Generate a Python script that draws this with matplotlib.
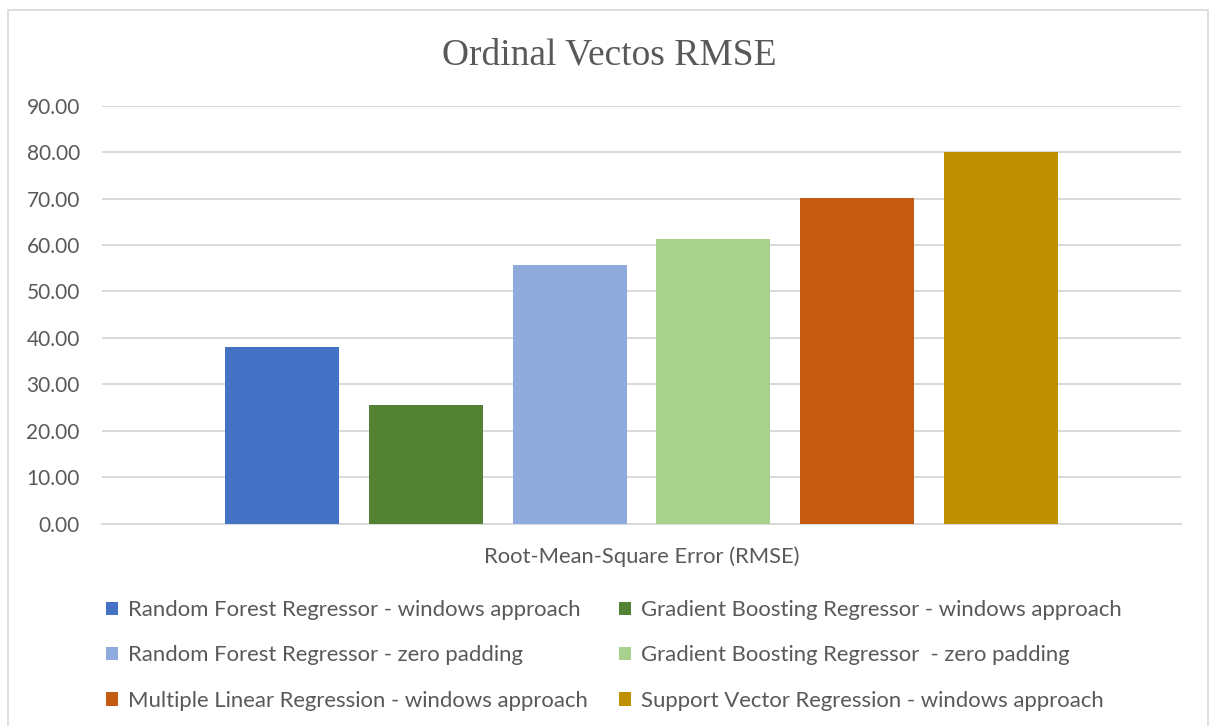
import matplotlib
matplotlib.use("Agg")
import matplotlib.pyplot as plt
from matplotlib.patches import Rectangle, Patch

title = "Ordinal Vectos RMSE"
category = "Root-Mean-Square Error (RMSE)"
series_names = [
    "Random Forest Regressor - windows approach",
    "Gradient Boosting Regressor - windows approach",
    "Random Forest Regressor - zero padding",
    "Gradient Boosting Regressor  - zero padding",
    "Multiple Linear Regression - windows approach",
    "Support Vector Regression - windows approach",
]
values = [38.0, 25.6, 55.7, 61.3, 70.1, 80.0]
colors = ["#4472C4", "#548235", "#8FAADC", "#A9D18E", "#C55A11", "#BF9000"]
yticks = [0, 10, 20, 30, 40, 50, 60, 70, 80, 90]

TXT = "#595959"
GRID = "#D9D9D9"
SANS = ["Lato", "DejaVu Sans"]

fig = plt.figure(figsize=(12.1, 7.26), dpi=100)
fig.patch.set_facecolor("white")
# chart border
fig.patches.append(Rectangle((8/1210, -0.01), 1200/1210, 1 - 10/726 + 0.01,
                             transform=fig.transFigure, fill=False,
                             edgecolor=GRID, linewidth=1.2))

ax = fig.add_axes([102/1210, 1 - 523.7/726, (1181 - 102)/1210, (523.7 - 105.7)/726])

n = len(values)
bar_w = 114 / 1079
step = 143.7 / 1079
for i, (v, c, name) in enumerate(zip(values, colors, series_names)):
    x = (i - (n - 1) / 2) * step
    ax.bar(x, v, width=bar_w, color=c, label=name, zorder=3)

ax.set_xlim(-0.5, 0.5)
ax.set_ylim(0, 90)
ax.set_yticks(yticks)
ax.set_yticklabels([f"{t:.2f}" for t in yticks], fontsize=15, color=TXT, family=SANS)
ax.set_xticks([0])
ax.set_xticklabels([category], fontsize=15.8, color=TXT, family=SANS)
ax.tick_params(axis="y", length=0, pad=16)
ax.tick_params(axis="x", length=0, pad=16)
ax.yaxis.grid(True, color=GRID, linewidth=1.4, zorder=0)
for s in ["top", "right", "left"]:
    ax.spines[s].set_visible(False)
ax.spines["bottom"].set_color(GRID)
ax.spines["bottom"].set_linewidth(1.4)

fig.text(609/1210, 1 - 55/726, title, ha="center", va="center",
         fontsize=27, color=TXT, family=["Liberation Serif", "DejaVu Serif"])

handles = [Patch(facecolor=c, edgecolor="none") for c in colors]
order = [0, 2, 4, 1, 3, 5]
leg = fig.legend([handles[i] for i in order], [series_names[i] for i in order],
                 ncol=2, loc="upper left", bbox_to_anchor=(106/1210, 1 - 600/726),
                 frameon=False, prop={"family": SANS, "size": 15.9},
                 handlelength=0.55, handleheight=0.55, handletextpad=0.45,
                 columnspacing=1.4, labelspacing=1.15, borderpad=0, borderaxespad=0)
for t in leg.get_texts():
    t.set_color(TXT)

fig.savefig("out.png", dpi=100, facecolor="white")
